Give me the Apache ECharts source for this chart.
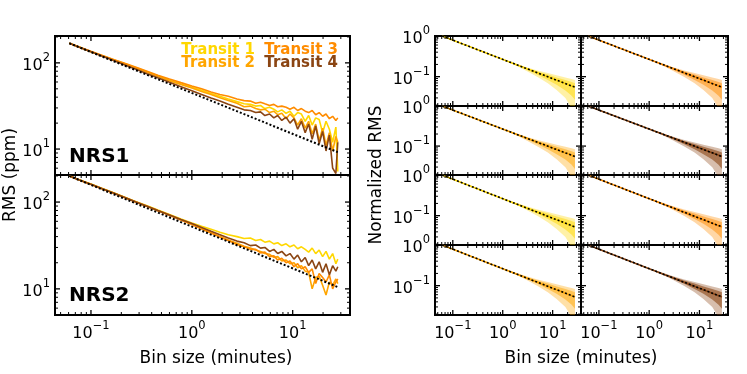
<!DOCTYPE html>
<html>
<head>
<meta charset="utf-8">
<script src="https://cdn.jsdelivr.net/npm/echarts@6/dist/echarts.min.js"></script>
<style>
  html, body { margin: 0; padding: 0; background: #fff; }
  #chart { width: 747px; height: 374px; }
</style>
</head>
<body>
<div id="chart"></div>
<script>
// bin sizes in minutes
const binMin = [0.061, 0.08, 0.1, 0.13, 0.17, 0.22, 0.28, 0.36, 0.46, 0.6, 0.78, 1.0, 1.25, 1.55, 1.9, 2.3, 2.8,
  3.3, 3.8, 4.3, 4.8, 5.3, 5.9, 6.5, 7.1, 7.8, 8.6, 9.4, 10.3, 11.2, 12.2, 13.3, 14.4, 15.6, 16.9, 18.3, 19.8, 21.4, 23.1, 24.9, 26.8, 28];

// RMS (ppm), NRS1
const nrs1T1 = [169, 150, 135, 121, 108, 97, 88, 79, 71, 63, 57, 52, 48, 44, 41, 38, 35.5,
  33.5, 33, 31.5, 32, 29.5, 30.5, 29, 27, 28.5, 26, 27.5, 24, 26.5, 25.5, 21, 24.5, 19, 23, 22, 15.5, 21, 17, 12, 18, 5.5];
const nrs1T2 = [169, 149, 135, 120, 107, 96, 87, 78, 70, 62, 56, 51, 46.5, 43, 39.5, 36.5, 34,
  31, 31.5, 29.5, 28.5, 29, 26.5, 27.5, 25, 26, 22.5, 25.5, 23, 19, 22.5, 17.5, 21, 15, 19.5, 12.5, 17.5, 11, 15.5, 9.5, 14, 12];
const nrs1T3 = [169, 150, 136, 122, 109, 98, 89, 80, 72, 65, 59, 54, 50, 46, 43, 41, 38,
  36.5, 36, 34, 35, 33.5, 32, 33, 31, 31.5, 30.5, 29, 30.5, 28, 29.5, 27.5, 26.5, 28, 25, 26.5, 24, 25.5, 22.5, 24, 21.5, 23];
const nrs1T4 = [169, 149, 134.5, 119, 105.5, 94, 84.5, 75, 67, 59.5, 53, 47.5, 43, 39, 36, 33, 30.5,
  28.5, 28, 26.5, 27, 24.5, 25.5, 23, 24.5, 21.5, 23.5, 20, 22.5, 17, 21, 15.5, 19.5, 13, 18.5, 11.5, 16, 9.5, 14.5, 6, 5.2, 12];

// RMS (ppm), NRS2
const nrs2T1 = [200, 177, 161, 143, 127, 113, 101, 90.5, 81, 72, 64, 57.5, 52.5, 48.5, 45, 42, 40,
  38, 38.5, 36, 37, 34.5, 35.5, 33, 34, 31.5, 33, 30.5, 32, 29, 30.5, 28.5, 26.5, 29.5, 25.5, 28, 23.5, 27, 22, 25.5, 19.5, 22];
const nrs2T2 = [200, 176.5, 160, 142, 126, 112, 100, 89.5, 80, 71, 62.5, 55.5, 49.5, 44.5, 40, 36.5, 33.5,
  31, 29.5, 28, 27, 25.5, 25, 23, 23.5, 21, 21.5, 19.5, 20, 17.5, 18.5, 16, 15.5, 10, 13.5, 14, 11, 8.5, 12, 11, 13, 11.5];
const nrs2T3 = [200, 176, 159.5, 141.5, 125.5, 111.5, 99.5, 89, 79.5, 70.5, 62, 55, 49, 44, 39.5, 36, 32.5,
  30.5, 28.5, 28.5, 26, 26.5, 23.5, 24, 21.5, 22.5, 20, 21, 18, 19.5, 17, 18, 15.5, 17, 11.5, 15, 13.5, 12, 14.5, 10, 12, 13];
const nrs2T4 = [200, 176.5, 160, 142, 126, 112, 100, 89.5, 80, 71, 63, 56.5, 51, 46, 42, 38.5, 35.5,
  34, 31.5, 32, 29.5, 30, 27, 28.5, 25.5, 27, 24, 25.5, 22, 24.5, 20.5, 23, 18.5, 21.5, 17, 20.5, 15.5, 19.5, 14.5, 18.5, 16, 18];

// expected white-noise scaling (dotted)
const photonX = [0.061, 28];
const nrs1Photon = [169, 9.2];
const nrs2Photon = [200, 10.5];
const normPhoton1 = [1, 0.055];
const normPhoton2 = [1, 0.053];

// spread of the individual normalized curves
const fanX = [0.6, 1, 2, 3, 5, 8, 12, 18, 24, 28];
const fanHi = [0.336, 0.267, 0.201, 0.171, 0.142, 0.123, 0.108, 0.096, 0.088, 0.083];
const fanLo = [0.336, 0.260, 0.179, 0.138, 0.098, 0.069, 0.047, 0.0297, 0.0167, 0.0087];
const coreHi = [0.336, 0.265, 0.196, 0.165, 0.134, 0.113, 0.096, 0.083, 0.074, 0.069];
const coreLo = [0.336, 0.263, 0.186, 0.148, 0.111, 0.083, 0.063, 0.046, 0.034, 0.027];

// tick positions
const xMajor = [0.1, 1, 10];
const xMinor = [0.05, 0.06, 0.07, 0.08, 0.09, 0.2, 0.3, 0.4, 0.5, 0.6, 0.7, 0.8, 0.9, 2, 3, 4, 5, 6, 7, 8, 9, 20, 30];
const rmsMajor = [10, 100];
const rmsMinor = [6, 7, 8, 9, 20, 30, 40, 50, 60, 70, 80, 90, 200];
const normMajor = [0.1, 1];
const normMinor = [0.02, 0.03, 0.04, 0.05, 0.06, 0.07, 0.08, 0.09, 0.2, 0.3, 0.4, 0.5, 0.6, 0.7, 0.8, 0.9];

const colors = ['#FFD700', '#FFA500', '#FF8C00', '#8B4513']; // transit 1..4
const FONT = 'DejaVu Sans';
const X_MIN = 0.044, X_MAX = 37;
const RMS_MIN = 5, RMS_MAX = 205;
const NORM_MIN = 0.019, NORM_MAX = 1;

const rich = {
  b: { fontSize: 16, fontFamily: FONT, color: '#000', verticalAlign: 'bottom', lineHeight: 22 },
  s: { fontSize: 11.5, fontFamily: FONT, color: '#000', verticalAlign: 'top', lineHeight: 22 }
};
function powLabel(v) {
  const e = Math.log10(v);
  const r = Math.round(e);
  if (Math.abs(e - r) > 1e-6) return '';
  return '{b|10}{s|' + (r < 0 ? '\u2212' + (-r) : r) + '}';
}

const grids = [], xAxes = [], yAxes = [], series = [];

function addPanel(box, yMin, yMax, showX, yMaj, yMin2) {
  const gi = grids.length;
  grids.push({ left: box[0], top: box[1], width: box[2], height: box[3], show: true,
    borderColor: '#000', borderWidth: 2, backgroundColor: 'transparent' });
  xAxes.push({ type: 'log', logBase: 10, gridIndex: gi, min: X_MIN, max: X_MAX,
    axisLine: { show: false }, axisTick: { show: false }, splitLine: { show: false },
    axisLabel: { show: showX, margin: 5, formatter: powLabel, rich: rich } });
  yAxes.push({ type: 'log', logBase: 10, gridIndex: gi, min: yMin, max: yMax,
    axisLine: { show: false }, axisTick: { show: false }, splitLine: { show: false },
    axisLabel: { margin: 5, formatter: powLabel, rich: rich } });
  // ticks on all four sides, pointing inwards
  series.push({
    type: 'custom', xAxisIndex: gi, yAxisIndex: gi, silent: true, z: 10,
    data: [[1, Math.sqrt(yMin * yMax)]],
    renderItem: function (params, api) {
      const cs = params.coordSys;
      const x0 = cs.x, x1 = cs.x + cs.width, y0 = cs.y, y1 = cs.y + cs.height;
      const kids = [];
      const add = (a, b, c, d, w) => kids.push({ type: 'line', shape: { x1: a, y1: b, x2: c, y2: d },
        style: { stroke: '#000', lineWidth: w } });
      xMajor.forEach(v => { const p = api.coord([v, yMin])[0]; add(p, y1, p, y1 - 5, 1.3); add(p, y0, p, y0 + 5, 1.3); });
      xMinor.forEach(v => { const p = api.coord([v, yMin])[0]; add(p, y1, p, y1 - 3, 1); add(p, y0, p, y0 + 3, 1); });
      yMaj.forEach(v => { const p = api.coord([X_MIN, v])[1]; add(x0, p, x0 + 5, p, 1.3); add(x1, p, x1 - 5, p, 1.3); });
      yMin2.forEach(v => { const p = api.coord([X_MIN, v])[1]; add(x0, p, x0 + 3, p, 1); add(x1, p, x1 - 3, p, 1); });
      return { type: 'group', children: kids };
    }
  });
  return gi;
}

function lineSeries(gi, xs, ys, color, width, dotted, z) {
  return {
    type: 'line', xAxisIndex: gi, yAxisIndex: gi, symbol: 'none', silent: true, z: z,
    data: xs.map((x, i) => [x, ys[i]]),
    lineStyle: { color: color, width: width, type: dotted ? [2, 2] : 'solid' }
  };
}

function fanSeries(gi, color, hi, lo, op) {
  return {
    type: 'custom', xAxisIndex: gi, yAxisIndex: gi, silent: true, clip: true, z: 1,
    data: [[1, 0.1]],
    renderItem: function (params, api) {
      const pts = [];
      fanX.forEach((x, i) => pts.push(api.coord([x, hi[i]])));
      for (let i = fanX.length - 1; i >= 0; i--) pts.push(api.coord([fanX[i], lo[i]]));
      return { type: 'polygon', shape: { points: pts }, style: { fill: color, opacity: op } };
    }
  };
}

// left: absolute RMS
const left = [
  { box: [55, 36, 295, 139], curves: [nrs1T1, nrs1T2, nrs1T3, nrs1T4], photon: nrs1Photon, showX: false },
  { box: [55, 175, 295, 140], curves: [nrs2T1, nrs2T2, nrs2T3, nrs2T4], photon: nrs2Photon, showX: true }
];
left.forEach(p => {
  const gi = addPanel(p.box, RMS_MIN, RMS_MAX, p.showX, rmsMajor, rmsMinor);
  p.curves.forEach((c, k) => series.push(lineSeries(gi, binMin, c, colors[k], 1.6, false, 3 + (k === 3 ? 1 : 0))));
  series.push(lineSeries(gi, photonX, p.photon, '#000', 2, true, 6));
});

// right: normalized RMS, 4 rows x 2 columns
const colLeft = [435, 581], colWidth = [146, 147];
const rowTop = [36, 106, 175, 245], rowHeight = [70, 69, 70, 70];
const panelColor = [[0, 2], [1, 3], [0, 2], [1, 3]];
for (let r = 0; r < 4; r++) {
  for (let c = 0; c < 2; c++) {
    const gi = addPanel([colLeft[c], rowTop[r], colWidth[c], rowHeight[r]], NORM_MIN, NORM_MAX, r === 3, normMajor, normMinor);
    const col = colors[panelColor[r][c]];
    const norm = r < 2 ? normPhoton1 : normPhoton2;
    const dense = panelColor[r][c] === 3 ? 0.6 : 0.5;
    series.push(fanSeries(gi, col, fanHi, fanLo, 0.35));
    series.push(fanSeries(gi, col, coreHi, coreLo, dense));
    series.push(lineSeries(gi, photonX, norm, col, 1.6, false, 3));
    series.push(lineSeries(gi, photonX, norm, '#000', 1.6, true, 6));
    if (c === 1) yAxes[gi].axisLabel.show = false;
  }
}

const txt = (x, y, s, opt) => Object.assign({ type: 'text', x: x, y: y,
  style: Object.assign({ text: s, fontFamily: FONT, fill: '#000' }, opt) });

const graphic = [
  txt(255, 50, 'Transit 1', { fill: colors[0], fontSize: 15, fontWeight: 'bold', align: 'right', verticalAlign: 'middle' }),
  txt(338, 50, 'Transit 3', { fill: colors[2], fontSize: 15, fontWeight: 'bold', align: 'right', verticalAlign: 'middle' }),
  txt(255, 63.5, 'Transit 2', { fill: colors[1], fontSize: 15, fontWeight: 'bold', align: 'right', verticalAlign: 'middle' }),
  txt(338, 63.5, 'Transit 4', { fill: colors[3], fontSize: 15, fontWeight: 'bold', align: 'right', verticalAlign: 'middle' }),
  txt(69, 157, 'NRS1', { fontSize: 20, fontWeight: 'bold', align: 'left', verticalAlign: 'middle' }),
  txt(69, 296, 'NRS2', { fontSize: 20, fontWeight: 'bold', align: 'left', verticalAlign: 'middle' }),
  txt(216, 359, 'Bin size (minutes)', { fontSize: 17, align: 'center', verticalAlign: 'middle' }),
  txt(581, 359, 'Bin size (minutes)', { fontSize: 17, align: 'center', verticalAlign: 'middle' }),
  Object.assign(txt(11, 175, 'RMS (ppm)', { fontSize: 17, align: 'center', verticalAlign: 'middle' }), { rotation: Math.PI / 2 }),
  Object.assign(txt(377, 175, 'Normalized RMS', { fontSize: 17, align: 'center', verticalAlign: 'middle' }), { rotation: Math.PI / 2 })
];

const chart = echarts.init(document.getElementById('chart'));
chart.setOption({
  animation: false,
  backgroundColor: '#fff',
  grid: grids,
  xAxis: xAxes,
  yAxis: yAxes,
  series: series,
  graphic: graphic
});
</script>
</body>
</html>
